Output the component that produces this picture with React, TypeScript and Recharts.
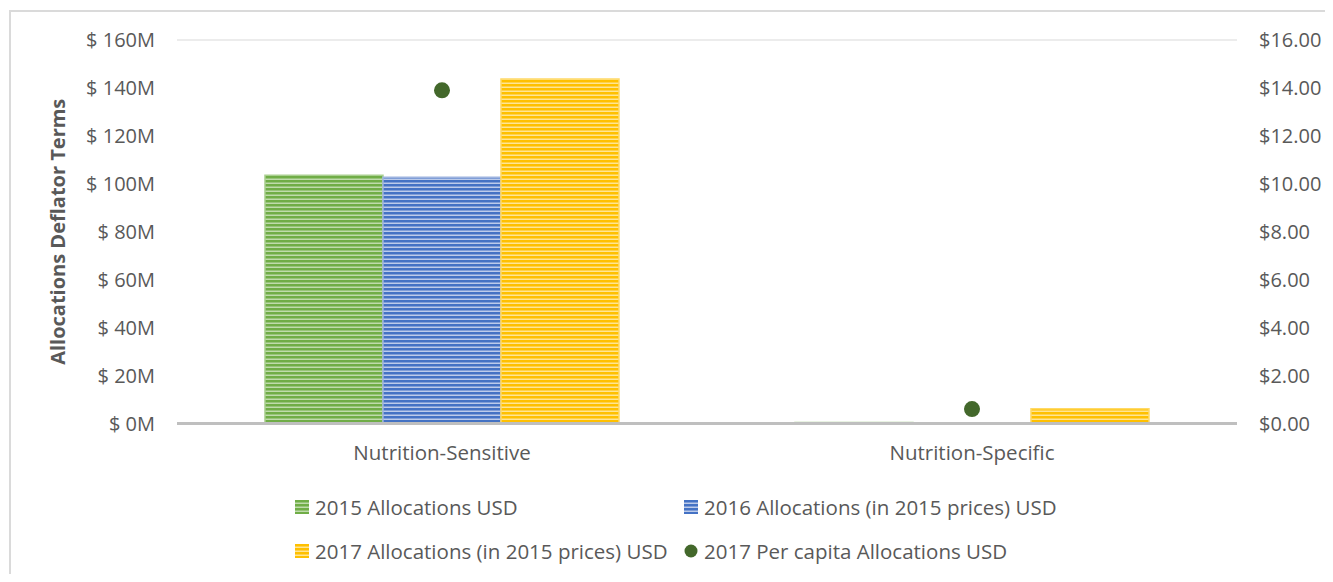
import { ComposedChart, Bar, Line, XAxis, YAxis, CartesianGrid, Legend } from 'recharts';

// values in millions of USD (per capita in USD)
const categories = ['Nutrition-Sensitive', 'Nutrition-Specific'];
const alloc2015 = [103.6, 0.4];
const alloc2016 = [102.7, 0.3];
const alloc2017 = [143.7, 6.2];
const perCapita2017 = [13.9, 0.6];

const leftTicks = [0, 20, 40, 60, 80, 100, 120, 140, 160];
const rightTicks = [0, 2, 4, 6, 8, 10, 12, 14, 16];

const seriesNames = [
  '2015 Allocations USD',
  '2016 Allocations (in 2015 prices) USD',
  '2017 Allocations (in 2015 prices) USD',
  '2017 Per capita Allocations USD',
];

const data = categories.map((name, i) => ({
  name,
  a2015: alloc2015[i],
  a2016: alloc2016[i],
  a2017: alloc2017[i],
  pc2017: perCapita2017[i],
}));

const FONT = '"Open Sans", "Liberation Sans", sans-serif';
const FS = 20.5;
const TICK_FS = 20;
const TEXT = '#595959';
const DOT = '#43682B';

const STRIPES = [
  { id: 'green', solid: '#70AD47', light: '#BFDBAC' },
  { id: 'blue', solid: '#4472C4', light: '#BCCBEA' },
  { id: 'yellow', solid: '#FFC000', light: '#FFE594' },
];

const Stripe = ({ id, solid, light, prefix }: { id: string; solid: string; light: string; prefix: string }) => (
  <pattern id={`${prefix}-${id}`} width={8} height={4} patternUnits="userSpaceOnUse">
    <rect x={0} y={0} width={8} height={4} fill={light} />
    <rect x={0} y={0} width={8} height={2.5} fill={solid} />
  </pattern>
);

const Swatch = ({ idx }: { idx: number }) => {
  if (idx === 3) {
    return (
      <svg width={14} height={14} style={{ display: 'block' }}>
        <circle cx={7} cy={7} r={6.5} fill={DOT} />
      </svg>
    );
  }
  const s = STRIPES[idx];
  return (
    <svg width={14} height={14} style={{ display: 'block' }}>
      <defs>
        <Stripe {...s} prefix="lg" />
      </defs>
      <rect x={0} y={0} width={14} height={14} fill={`url(#lg-${s.id})`} />
    </svg>
  );
};

const legendPos = [
  { left: 287, top: 0 },
  { left: 676, top: 0 },
  { left: 287, top: 44 },
  { left: 676, top: 44 },
];

const renderLegend = () => (
  <div style={{ position: 'relative', width: 1317, height: 70, fontFamily: FONT, fontSize: FS, color: TEXT }}>
    {seriesNames.map((n, i) => (
      <div
        key={n}
        style={{
          position: 'absolute',
          left: legendPos[i].left,
          top: legendPos[i].top,
          display: 'flex',
          alignItems: 'center',
          gap: 6,
          height: 24,
          whiteSpace: 'nowrap',
        }}
      >
        <Swatch idx={i} />
        <span>{n}</span>
      </div>
    ))}
  </div>
);

const App = () => {
  return (
    <div style={{ position: 'relative', width: 1317, height: 566 }}>
      <style>{'html, body { overflow: hidden; }'}</style>
      <div
        style={{
          position: 'absolute',
          left: 1,
          top: 2,
          right: 0,
          bottom: -8,
          borderLeft: '2px solid #DADADA',
          borderTop: '2px solid #DADADA',
        }}
      />
      <ComposedChart
        width={1317}
        height={574}
        data={data}
        margin={{ top: 32, right: 0, bottom: 128.5, left: 0 }}
        barCategoryGap="16.6%"
        barGap={0}
        style={{ position: 'absolute', left: 0, top: 0 }}
      >
        <defs>
          {STRIPES.map((s) => (
            <Stripe key={s.id} {...s} prefix="bar" />
          ))}
        </defs>
        <CartesianGrid vertical={false} stroke="#D9D9D9" strokeWidth={1} />
        <XAxis
          dataKey="name"
          height={30}
          axisLine={{ stroke: '#BFBFBF', strokeWidth: 3 }}
          tickLine={false}
          tickSize={0}
          tickMargin={22}
          tick={{ fill: TEXT, fontSize: FS, fontFamily: FONT }}
        />
        <YAxis
          yAxisId="left"
          width={169}
          domain={[0, 160]}
          ticks={leftTicks}
          interval={0}
          axisLine={false}
          tickLine={false}
          tickSize={0}
          tickMargin={22}
          tickFormatter={(v: number) => `$ ${v}M`}
          tick={{ fill: TEXT, fontSize: TICK_FS, fontFamily: FONT }}
          label={{
            value: 'Allocations Deflator Terms',
            angle: -90,
            position: 'insideLeft',
            offset: 50,
            style: { textAnchor: 'middle', fill: TEXT, fontSize: 20, fontWeight: 'bold', fontFamily: FONT },
          }}
        />
        <YAxis
          yAxisId="right"
          orientation="right"
          width={88}
          domain={[0, 16]}
          ticks={rightTicks}
          interval={0}
          axisLine={false}
          tickLine={false}
          tickSize={0}
          tickMargin={22}
          tickFormatter={(v: number) => `$${v.toFixed(2)}`}
          tick={{ fill: TEXT, fontSize: TICK_FS, fontFamily: FONT, textAnchor: 'start' }}
        />
        <Bar yAxisId="left" dataKey="a2015" name={seriesNames[0]} fill="url(#bar-green)" stroke="#A9CF8F" strokeWidth={1.5} isAnimationActive={false} />
        <Bar yAxisId="left" dataKey="a2016" name={seriesNames[1]} fill="url(#bar-blue)" stroke="#9DB3DF" strokeWidth={1.5} isAnimationActive={false} />
        <Bar yAxisId="left" dataKey="a2017" name={seriesNames[2]} fill="url(#bar-yellow)" stroke="#FFD966" strokeWidth={1.5} isAnimationActive={false} />
        <Line
          yAxisId="right"
          dataKey="pc2017"
          name={seriesNames[3]}
          stroke="none"
          dot={{ r: 8, fill: DOT, stroke: 'none' }}
          activeDot={false}
          isAnimationActive={false}
        />
        <Legend
          layout="vertical"
          align="center"
          verticalAlign="middle"
          content={renderLegend}
          wrapperStyle={{ position: 'absolute', left: 0, top: 487, width: 1317 }}
        />
      </ComposedChart>
    </div>
  );
};

export default App;
